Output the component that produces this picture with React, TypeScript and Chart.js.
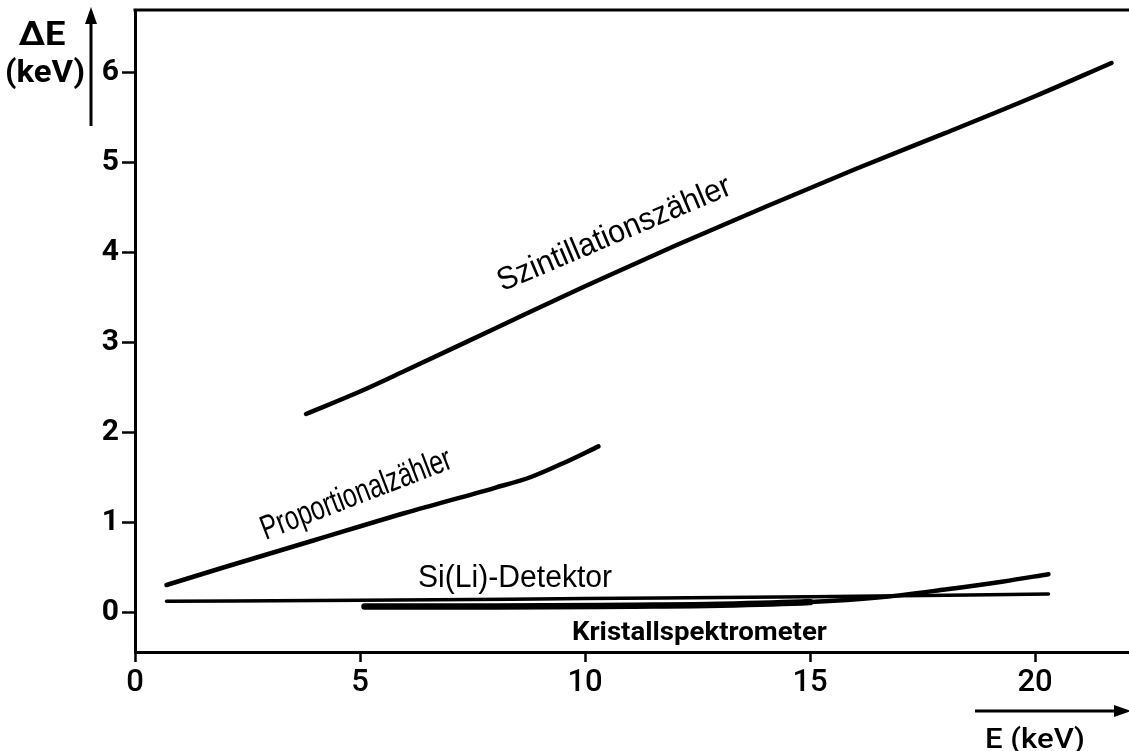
import React, { useEffect, useRef } from "react";
import { Chart, registerables } from "chart.js";

Chart.register(...registerables);

const INK = "#000000";

// Axis ticks
const energyTicks = [0, 5, 10, 15, 20];
const resolutionTicks = [0, 1, 2, 3, 4, 5, 6];

// Energy resolution ΔE (keV) versus photon energy E (keV)
const szintE = [3.8, 5, 6, 8, 10, 12, 14, 16, 18, 20, 21.7];
const szintDE = [2.2, 2.45, 2.68, 3.15, 3.62, 4.07, 4.5, 4.92, 5.32, 5.73, 6.1];

const propE = [0.7, 2, 4, 6, 8, 8.8, 9.5, 10.3];
const propDE = [0.3, 0.5, 0.8, 1.1, 1.38, 1.5, 1.65, 1.84];

const siliE = [0.7, 5, 10, 15, 20.3];
const siliDE = [0.12, 0.13, 0.15, 0.17, 0.2];

const kristE = [5.1, 8, 11, 13, 15, 16.5, 18, 19.3, 20.3];
const kristDE = [0.06, 0.06, 0.07, 0.08, 0.11, 0.16, 0.25, 0.34, 0.42];

const NARROW = '"Liberation Sans Narrow", "Liberation Sans", Arial, sans-serif';
const DIN = 'Roboto, "DejaVu Sans", sans-serif';

// Curve captions, anchored at the start of their baseline in data units
const curveLabels = [
  { text: "Szintillationszähler", e: 8.16, de: 3.56, angle: -23, length: 251, font: `32px ${NARROW}` },
  { text: "Proportionalzähler", e: 2.9, de: 0.8, angle: -21, length: 202, font: `34px ${NARROW}` },
  { text: "Si(Li)-Detektor", e: 6.29, de: 0.28, angle: 0, length: 194, font: `31px ${NARROW}` },
  { text: "Kristallspektrometer", e: 9.71, de: -0.31, angle: 0, length: 255, font: `bold 25px ${DIN}` },
];

const pts = (xs: number[], ys: number[]) => xs.map((x, i) => ({ x, y: ys[i] }));

function fitText(
  ctx: CanvasRenderingContext2D,
  text: string,
  x: number,
  y: number,
  width: number,
  font: string,
  align: "left" | "center" = "left",
  angle = 0
) {
  ctx.save();
  ctx.translate(x, y);
  ctx.rotate((angle * Math.PI) / 180);
  ctx.font = font;
  ctx.textBaseline = "alphabetic";
  ctx.textAlign = "left";
  const w = ctx.measureText(text).width;
  ctx.scale(width / w, 1);
  ctx.fillText(text, align === "center" ? -w / 2 : 0, 0);
  ctx.restore();
}

const decorations = {
  id: "decorations",
  afterDraw(chart: any) {
    const { ctx, chartArea, scales } = chart;
    const xs = scales.x;
    const ys = scales.y;
    ctx.save();
    ctx.fillStyle = INK;
    ctx.strokeStyle = INK;

    // upper frame line
    ctx.lineWidth = 3;
    ctx.beginPath();
    ctx.moveTo(chartArea.left - 1.5, chartArea.top);
    ctx.lineTo(chartArea.right, chartArea.top);
    ctx.stroke();

    // captions along the curves
    for (const l of curveLabels) {
      fitText(ctx, l.text, xs.getPixelForValue(l.e), ys.getPixelForValue(l.de), l.length, l.font, "left", l.angle);
    }

    // y axis title with upward arrow
    fitText(ctx, "ΔE", 42, 45, 47, `bold 33px ${DIN}`, "center");
    fitText(ctx, "(keV)", 45, 82, 80, `bold 32px ${DIN}`, "center");
    ctx.lineWidth = 3;
    ctx.beginPath();
    ctx.moveTo(91, 126);
    ctx.lineTo(91, 20);
    ctx.stroke();
    ctx.beginPath();
    ctx.moveTo(91, 7);
    ctx.lineTo(85, 24);
    ctx.lineTo(97, 24);
    ctx.closePath();
    ctx.fill();

    // x axis title with rightward arrow
    ctx.lineWidth = 3;
    ctx.beginPath();
    ctx.moveTo(975, 711);
    ctx.lineTo(1115, 711);
    ctx.stroke();
    ctx.beginPath();
    ctx.moveTo(1131, 711);
    ctx.lineTo(1114, 705);
    ctx.lineTo(1114, 717);
    ctx.closePath();
    ctx.fill();
    fitText(ctx, "E (keV)", 1035, 748, 100, `500 28px ${DIN}`, "center");

    ctx.restore();
  },
};

export default function App() {
  const canvasRef = useRef<HTMLCanvasElement | null>(null);

  useEffect(() => {
    const canvas = canvasRef.current;
    if (!canvas) return;
    const line = (data: any[], width: number, extra: any = {}) => ({
      data,
      borderColor: INK,
      borderWidth: width,
      borderCapStyle: "round",
      borderJoinStyle: "round",
      pointRadius: 0,
      fill: false,
      tension: 0.4,
      cubicInterpolationMode: "monotone",
      ...extra,
    });

    const chart = new Chart(canvas, {
      type: "line",
      data: {
        datasets: [
          line(pts(szintE, szintDE), 4.5),
          line(pts(propE, propDE), 4.5),
          line(pts(siliE, siliDE), 3.5),
          line(pts(kristE, kristDE), 5, {
            segment: {
              borderWidth: (c: any) => (c.p0.parsed.x < 14.5 ? 6.5 : 4.5),
            },
          }),
        ],
      },
      options: {
        animation: false,
        responsive: false,
        devicePixelRatio: 1,
        layout: { padding: { top: 10, left: 0, right: 0, bottom: 0 } },
        plugins: {
          legend: { display: false },
          tooltip: { enabled: false },
        },
        scales: {
          x: {
            type: "linear",
            min: 0,
            max: 994 / 45,
            afterBuildTicks: (s: any) => {
              s.ticks = energyTicks.map((v) => ({ value: v }));
            },
            afterFit: (s: any) => {
              s.height = 99;
              s.paddingLeft = 0;
              s.paddingRight = 0;
            },
            border: { display: true, color: INK, width: 3 },
            grid: {
              display: true,
              drawOnChartArea: false,
              drawTicks: true,
              tickLength: 10,
              tickWidth: 2.5,
              tickColor: INK,
            },
            ticks: {
              color: INK,
              padding: 3,
              maxRotation: 0,
              autoSkip: false,
              font: { family: DIN, size: 31, weight: 500 },
            },
          },
          y: {
            type: "linear",
            min: -40 / 90,
            max: 602 / 90,
            afterBuildTicks: (s: any) => {
              s.ticks = resolutionTicks.map((v) => ({ value: v }));
            },
            afterFit: (s: any) => {
              s.width = 135;
              s.paddingTop = 0;
              s.paddingBottom = 0;
            },
            border: { display: true, color: INK, width: 3 },
            grid: {
              display: true,
              drawOnChartArea: false,
              drawTicks: true,
              tickLength: 13,
              tickWidth: 2.5,
              tickColor: INK,
            },
            ticks: {
              color: INK,
              padding: 3,
              autoSkip: false,
              font: { family: DIN, size: 30, weight: "bold" },
            },
          },
        },
      } as any,
      plugins: [decorations],
    });

    return () => chart.destroy();
  }, []);

  return (
    <div style={{ position: "absolute", left: 0, top: 0, width: 1129, height: 751, background: "#ffffff" }}>
      <canvas ref={canvasRef} width={1129} height={751} style={{ width: 1129, height: 751, display: "block" }} />
    </div>
  );
}
